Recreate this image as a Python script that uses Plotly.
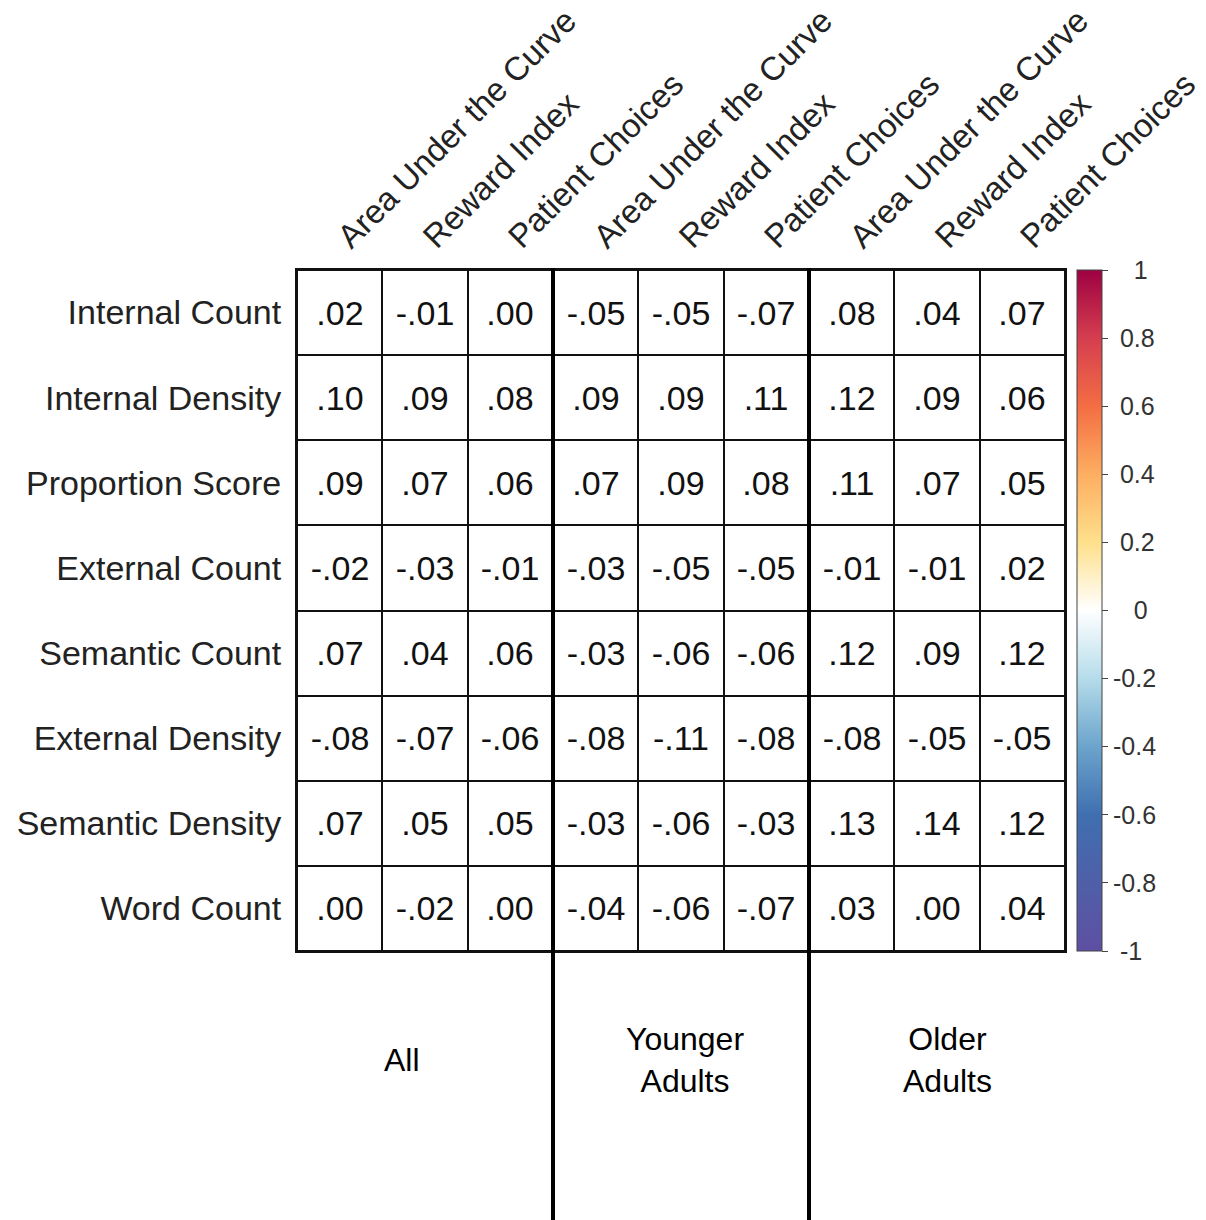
import plotly.graph_objects as go

# Narrative measures (rows) and choice outcomes per age group (columns)
rows = ["Internal Count", "Internal Density", "Proportion Score", "External Count",
        "Semantic Count", "External Density", "Semantic Density", "Word Count"]
outcomes = ["Area Under the Curve", "Reward Index", "Patient Choices"]
groups = ["All", "Younger<br>Adults", "Older<br>Adults"]

# Correlation coefficients: one list per row, columns ordered group by group
r_internal_count = [0.02, -0.01, 0.00, -0.05, -0.05, -0.07, 0.08, 0.04, 0.07]
r_internal_density = [0.10, 0.09, 0.08, 0.09, 0.09, 0.11, 0.12, 0.09, 0.06]
r_proportion_score = [0.09, 0.07, 0.06, 0.07, 0.09, 0.08, 0.11, 0.07, 0.05]
r_external_count = [-0.02, -0.03, -0.01, -0.03, -0.05, -0.05, -0.01, -0.01, 0.02]
r_semantic_count = [0.07, 0.04, 0.06, -0.03, -0.06, -0.06, 0.12, 0.09, 0.12]
r_external_density = [-0.08, -0.07, -0.06, -0.08, -0.11, -0.08, -0.08, -0.05, -0.05]
r_semantic_density = [0.07, 0.05, 0.05, -0.03, -0.06, -0.03, 0.13, 0.14, 0.12]
r_word_count = [0.00, -0.02, 0.00, -0.04, -0.06, -0.07, 0.03, 0.00, 0.04]

z = [r_internal_count, r_internal_density, r_proportion_score, r_external_count,
     r_semantic_count, r_external_density, r_semantic_density, r_word_count]

colorbar_ticks = [1, 0.8, 0.6, 0.4, 0.2, 0, -0.2, -0.4, -0.6, -0.8, -1]

FONT = "Liberation Sans, Arial, Helvetica, sans-serif"
W, H = 1206, 1220
M = dict(l=297, r=141, t=270, b=269, autoexpand=False)
NBSP = "\u00a0"


def fmt(v):
    s = f"{v:.2f}"
    return s.replace("0.", ".", 1)


def cb_label(t):
    # roughly centre the colour-key labels in their column
    s = "%g" % t
    pad = {1: 3, 2: 1, 3: 1}.get(len(s), 0)
    if s == "0":
        pad = 3
    return NBSP * pad + s


text = [[fmt(v) for v in row] for row in z]
n_cols = len(outcomes) * 3
col_idx = list(range(n_cols))
col_labels = outcomes * 3

spectral = [
    [0.0, "#5E4FA2"], [0.1, "#4F5FA8"], [0.2, "#3F6FB0"], [0.3, "#6BA4CC"],
    [0.4, "#B5DCEA"], [0.5, "#FFFFFF"], [0.6, "#FEE08B"], [0.7, "#FDAE61"],
    [0.8, "#F46D43"], [0.9, "#D53E4F"], [1.0, "#9E0142"],
]

fig = go.Figure()

# Cells: white fill, black grid from the gaps, value printed in each cell
fig.add_trace(go.Heatmap(
    z=z, x=col_idx, y=rows, text=text, texttemplate="%{text}",
    textfont=dict(family=FONT, size=34, color="#111111"),
    colorscale=[[0, "white"], [1, "white"]], showscale=False,
    xgap=2, ygap=2, hoverinfo="skip",
))

# Colour key for the correlation scale
fig.add_trace(go.Scatter(
    x=[None], y=[None], mode="markers", showlegend=False, hoverinfo="skip",
    marker=dict(color=[0], cmin=-1, cmax=1, colorscale=spectral, showscale=True,
                colorbar=dict(
                    x=1.016, xanchor="left", xref="paper", y=0.5, yanchor="middle",
                    len=1.0, lenmode="fraction", thickness=25, xpad=0, ypad=0,
                    outlinecolor="#444444", outlinewidth=1,
                    tickvals=colorbar_ticks,
                    ticktext=[cb_label(t) for t in colorbar_ticks],
                    ticks="outside", ticklen=6, tickcolor="#444444",
                    tickfont=dict(family=FONT, size=25, color="#333333"),
                )),
))

fig.update_xaxes(
    range=[-0.5, n_cols - 0.5], side="top", tickmode="array",
    tickvals=col_idx, ticktext=col_labels, tickangle=-45,
    tickfont=dict(family=FONT, size=33, color="#222222"),
    showgrid=False, zeroline=False, ticks="", ticklabelstandoff=0, automargin=False,
    showline=True, mirror=True, linecolor="#111111", linewidth=2,
)
fig.update_yaxes(
    autorange="reversed", tickfont=dict(family=FONT, size=34, color="#222222"),
    showgrid=False, zeroline=False, ticks="", ticklabelstandoff=7, automargin=False,
    showline=True, mirror=True, linecolor="#111111", linewidth=2,
)

# Heavy dividers between age groups, running down to the group names
bottom = -M["b"] / (H - M["t"] - M["b"])
for k in range(1, 3):
    fig.add_shape(type="line", xref="x", yref="paper",
                  x0=3 * k - 0.5, x1=3 * k - 0.5, y0=bottom, y1=1.003,
                  line=dict(color="black", width=4))

group_x = [0.73, 4.05, 7.12]
for gx, g in zip(group_x, groups):
    fig.add_annotation(xref="x", yref="paper", x=gx, y=-0.16,
                       text=g, showarrow=False, yanchor="middle",
                       font=dict(family=FONT, size=32, color="black"))

fig.update_layout(
    width=W, height=H, margin=M, paper_bgcolor="white", plot_bgcolor="#111111",
    showlegend=False,
)

fig.write_html("out.html")
